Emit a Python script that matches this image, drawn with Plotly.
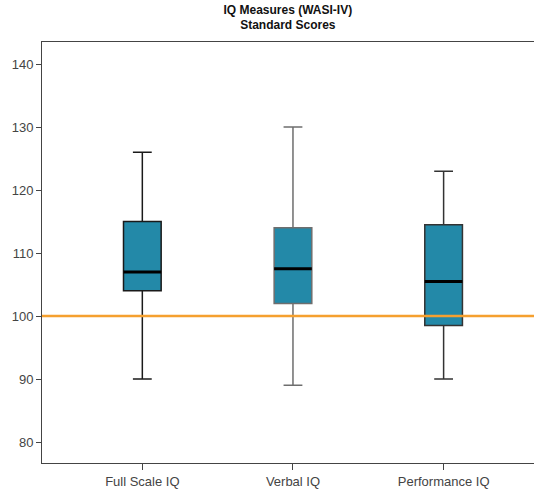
import plotly.graph_objects as go

categories = ["Full Scale IQ", "Verbal IQ", "Performance IQ"]
upper = [126, 130, 123]
q3 = [115, 114, 114.5]
median = [107, 107.5, 105.5]
q1 = [104, 102, 98.5]
lower = [90, 89, 90]
reference_line = 100
whisker_colors = ["#1a1a1a", "#6e6e6e", "#333333"]

fig = go.Figure()
for i, cat in enumerate(categories):
    fig.add_trace(go.Box(
        x=[cat], q1=[q1[i]], median=[median[i]], q3=[q3[i]],
        lowerfence=[lower[i]], upperfence=[upper[i]],
        width=0.25, whiskerwidth=0.5,
        fillcolor="#2389A8",
        line=dict(color=whisker_colors[i], width=1.5),
        showlegend=False, hoverinfo="skip",
    ))
# thick median lines
fig.add_trace(go.Box(
    x=categories, q1=median, median=median, q3=median,
    lowerfence=median, upperfence=median,
    width=0.25, whiskerwidth=0,
    fillcolor="rgba(0,0,0,0)",
    line=dict(color="#000000", width=3),
    showlegend=False, hoverinfo="skip",
))
fig.add_hline(y=reference_line, line=dict(color="#F5A02F", width=2.5), layer="above")

fig.update_layout(
    width=534, height=490,
    margin=dict(l=42, r=0, t=42, b=27),
    paper_bgcolor="white", plot_bgcolor="white",
    boxmode="overlay",
    font=dict(family="Liberation Sans, Arial, sans-serif", size=13, color="#444444"),
    title=dict(
        text="<b>IQ Measures (WASI-IV)<br>Standard Scores</b>",
        x=0.539, xanchor="center", yref="container", y=0.972, yanchor="middle",
        font=dict(size=12, color="#111111"),
    ),
)
fig.update_xaxes(
    type="category", range=[-0.666, 2.6],
    showline=True, linecolor="#444444", linewidth=1, mirror=True,
    ticks="outside", ticklen=6, tickcolor="#444444",
    showgrid=False, zeroline=False,
    tickfont=dict(size=13, color="#444444"),
)
fig.update_yaxes(
    range=[76.67, 143.5], tickvals=[80, 90, 100, 110, 120, 130, 140],
    showline=True, linecolor="#444444", linewidth=1,
    ticks="outside", ticklen=5, tickcolor="#444444",
    showgrid=False, zeroline=False,
    tickfont=dict(size=13, color="#444444"),
)
fig.write_html("out.html")
